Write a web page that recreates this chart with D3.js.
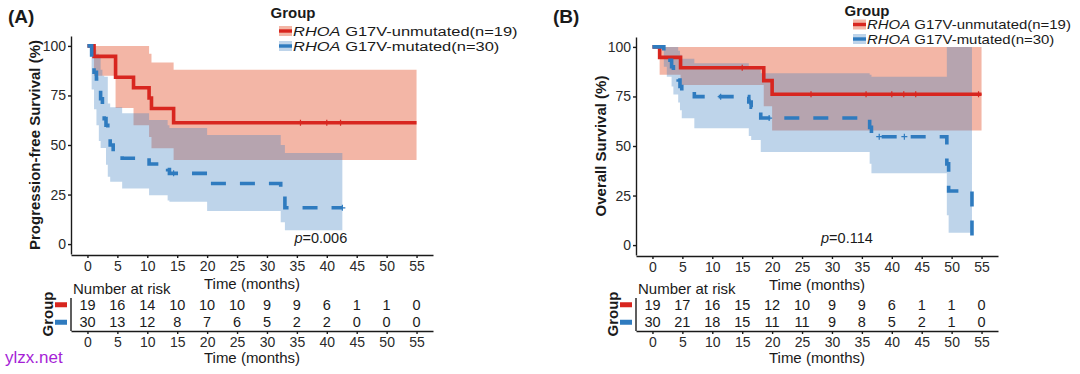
<!DOCTYPE html>
<html>
<head>
<meta charset="utf-8">
<style>
  body { margin: 0; background: #fff; }
  svg { display: block; }
  text { font-family: 'Liberation Sans', Arial, sans-serif; fill: #1a1a1a; }
  .axis path, .axis line { stroke: #1a1a1a; stroke-width: 1.4px; }
  .axis text { font-size: 14px; fill: #2a2a2a; }
</style>
</head>
<body>
<svg id="chart" width="1080" height="374"></svg>
<script src="https://d3js.org/d3.v7.min.js"></script>
<script>
// ---------- shared ticks / labels ----------
const monthTicks = [0, 5, 10, 15, 20, 25, 30, 35, 40, 45, 50, 55];
const pctTicks = [0, 25, 50, 75, 100];
const groupNames = ["G17V-unmutated(n=19)", "G17V-mutated(n=30)"];

// ---------- panel A : progression-free survival ----------
const pfsUnmutTime  = [0, 1.1, 4.7, 7.7, 10.3, 10.7, 14.4];
const pfsUnmutSurv  = [100, 94.7, 84.2, 78.9, 73.7, 68.4, 61.2];
const pfsUnmutUpper = [100, 100, 100, 100, 96, 91.6, 88];
const pfsUnmutLower = [100, 85, 68.7, 60, 54, 48.3, 42.4];
const pfsUnmutEnd = 55;
const pfsUnmutCensor = [35.6, 40.0, 42.3];

const pfsMutTime  = [0, 0.7, 1.1, 1.5, 1.9, 2.2, 2.5, 2.8, 3.1, 3.4, 3.8, 4.3, 5.8, 10.3, 13.4, 13.7, 20, 32.3, 33];
const pfsMutSurv  = [100, 93.3, 86.7, 83.3, 80, 73.3, 70, 63.3, 60, 53.3, 50, 46.7, 43.3, 40.4, 37.6, 35.7, 30.6, 24.5, 18.3];
const pfsMutUpper = [100, 100, 98, 96, 94, 88, 85, 84.5, 84.5, 71, 69, 69, 66, 62.6, 60, 58.6, 55, 50, 46];
const pfsMutLower = [100, 78, 68, 60, 52, 48.5, 48.5, 48.5, 40, 34, 31.5, 31.5, 28, 24.7, 22, 21.4, 16.7, 11, 7];
const pfsMutEnd = 42.6;
const pfsMutCensor = [14.4, 42.6];

const pfsRiskUnmut = [19, 16, 14, 10, 10, 10, 9, 9, 6, 1, 1, 0];
const pfsRiskMut   = [30, 13, 12, 8, 7, 6, 5, 2, 2, 0, 0, 0];

// ---------- panel B : overall survival ----------
const osUnmutTime  = [0, 1.2, 4.7, 18.6, 20];
const osUnmutSurv  = [100, 94.7, 89.5, 83, 76.1];
const osUnmutUpper = [100, 100, 100, 100, 100];
const osUnmutLower = [100, 85.9, 80.8, 70, 57.8];
const osUnmutEnd = 55;
const osUnmutCensor = [15, 26.5, 35.7, 40, 42, 44, 54.5];

const osMutTime  = [0, 1.9, 2.4, 3.2, 3.5, 4.3, 4.6, 4.9, 7.0, 16.1, 16.5, 18.1, 36.3, 36.6, 49.2, 49.5, 53.4];
const osMutSurv  = [100, 96.7, 93.3, 90, 86.7, 83.3, 80, 77.4, 74.9, 72.2, 69.6, 64.1, 59.4, 54.7, 41, 27.3, 0];
const osMutUpper = [100, 100, 100, 100, 100, 98, 96, 94, 91.7, 90, 89, 86.7, 86, 85, 100, 100, 100];
const osMutLower = [100, 90, 85, 80, 76, 72, 68, 64, 59, 55, 53, 47, 41, 36.2, 15, 6.2, 6.2];
const osMutEnd = 53.4;
const osMutCensor = [11.4, 16.3, 19.5, 37.9, 42.1];

const osRiskUnmut = [19, 17, 16, 15, 12, 10, 9, 9, 6, 1, 1, 0];
const osRiskMut   = [30, 21, 18, 15, 11, 11, 9, 8, 5, 2, 1, 0];

// ---------- styles ----------
const redLine = "#d8261f", blueLine = "#2f7bbf";
const redBand = "#ea7a5c", blueBand = "#4080c1";
const redAlpha = 0.55, blueAlpha = 0.34;

const svg = d3.select("#chart");
svg.append("rect").attr("width", 1080).attr("height", 374).attr("fill", "#fff");

function toRows(time, surv, lower, upper, end) {
  let rows = time.map((t, i) => ({ t: t, s: surv[i], lo: lower[i], hi: upper[i] }));
  let last = rows[rows.length - 1];
  rows.push({ t: end, s: last.s, lo: last.lo, hi: last.hi });
  return rows;
}

function survAt(time, surv, t) {
  let v = surv[0];
  time.forEach((tt, i) => { if (tt <= t) v = surv[i]; });
  return v;
}

function drawPanel(p) {
  const g = svg.append("g");
  const x = d3.scaleLinear().domain([-2.75, 57.75]).range([p.left, p.left + 362]);
  const y = d3.scaleLinear().domain([-5, 105]).range([p.bottom, p.bottom - 218]);

  const groups = [
    { rows: toRows(p.unmut.time, p.unmut.surv, p.unmut.lower, p.unmut.upper, p.unmut.end),
      time: p.unmut.time, surv: p.unmut.surv, censor: p.unmut.censor,
      line: redLine, band: redBand, alpha: redAlpha, dash: null },
    { rows: toRows(p.mut.time, p.mut.surv, p.mut.lower, p.mut.upper, p.mut.end),
      time: p.mut.time, surv: p.mut.surv, censor: p.mut.censor,
      line: blueLine, band: blueBand, alpha: blueAlpha, dash: "15,14" }
  ];

  const area = d3.area().curve(d3.curveStepAfter)
    .x(d => x(d.t)).y0(d => y(d.lo)).y1(d => y(d.hi));
  const line = d3.line().curve(d3.curveStepAfter)
    .x(d => x(d.t)).y(d => y(d.s));

  groups.forEach(gr => {
    g.append("path").attr("d", area(gr.rows))
      .attr("fill", gr.band).attr("fill-opacity", gr.alpha);
  });
  groups.forEach(gr => {
    g.append("path").attr("d", line(gr.rows))
      .attr("fill", "none").attr("stroke", gr.line)
      .attr("stroke-width", 3.6)
      .attr("stroke-dasharray", gr.dash);
    g.selectAll(null).data(gr.censor).join("path")
      .attr("d", t => {
        const cx = x(t), cy = y(survAt(gr.time, gr.surv, t));
        return `M${cx - 3},${cy}H${cx + 3}M${cx},${cy - 3}V${cy + 3}`;
      })
      .attr("stroke", gr.line).attr("stroke-width", 1.2);
  });

  // axes of the survival plot
  g.append("g").attr("class", "axis")
    .attr("transform", `translate(0,${p.bottom + 1})`)
    .call(d3.axisBottom(x).tickValues(monthTicks).tickSize(3).tickSizeOuter(0).tickPadding(3));
  g.append("g").attr("class", "axis")
    .attr("transform", `translate(${p.left},0)`)
    .call(d3.axisLeft(y).tickValues(pctTicks).tickSize(3).tickSizeOuter(0).tickPadding(2));

  g.append("text").attr("x", x(27.5)).attr("y", p.bottom + 29)
    .attr("text-anchor", "middle").attr("dominant-baseline", "central")
    .attr("font-size", 15).text("Time (months)");

  g.append("text")
    .attr("transform", `translate(${p.ytitleX},${y(50)}) rotate(-90)`)
    .attr("text-anchor", "middle").attr("dominant-baseline", "central")
    .attr("font-size", 15).attr("font-weight", "bold").text(p.ytitle);

  g.append("text").attr("x", p.tagX).attr("y", 16)
    .attr("dominant-baseline", "central")
    .attr("font-size", 19).attr("font-weight", "bold").text(p.tag);

  const pv = g.append("text").attr("x", x(p.pAt)).attr("y", 238)
    .attr("text-anchor", "middle").attr("dominant-baseline", "central")
    .attr("font-size", 14.5);
  pv.append("tspan").attr("font-style", "italic").text("p");
  pv.append("tspan").text("=" + p.pval);

  // legend
  g.append("text").attr("x", p.legX + 2).attr("y", p.legTitleY)
    .attr("text-anchor", "middle").attr("dominant-baseline", "central")
    .attr("font-size", 15).attr("font-weight", "bold").text("Group");
  groups.forEach((gr, i) => {
    const ly = p.legY + i * p.legGap;
    g.append("rect").attr("x", p.legX - 12).attr("y", ly - 5)
      .attr("width", 13).attr("height", 10)
      .attr("fill", gr.band).attr("fill-opacity", gr.alpha);
    g.append("line").attr("x1", p.legX - 12).attr("x2", p.legX + 1)
      .attr("y1", ly).attr("y2", ly)
      .attr("stroke", gr.line).attr("stroke-width", 3.4);
    const t = g.append("text")
      .attr("transform", `translate(${p.legX + 2},${ly}) scale(${p.legStretch},1)`)
      .attr("dominant-baseline", "central").attr("font-size", p.legFont);
    t.append("tspan").attr("font-style", "italic").text("RHOA");
    t.append("tspan").text(" " + groupNames[i]);
  });

  // number at risk table
  const tb = 331;
  const row = d3.scaleBand().domain(["unmut", "mut"]).range([296, tb]);
  g.append("text").attr("x", p.left + 2).attr("y", 288)
    .attr("dominant-baseline", "central").attr("font-size", 15).text("Number at risk");
  [[p.riskUnmut, "unmut", redLine], [p.riskMut, "mut", blueLine]].forEach(([vals, key, col]) => {
    const cy = row(key) + row.bandwidth() / 2;
    g.selectAll(null).data(vals).join("text")
      .attr("x", (d, i) => x(monthTicks[i])).attr("y", cy)
      .attr("text-anchor", "middle").attr("dominant-baseline", "central")
      .attr("font-size", 14.5).attr("fill", "#2a2a2a").text(d => d);
    g.append("rect").attr("x", p.left - 16).attr("y", cy - 2.5)
      .attr("width", 12).attr("height", 5).attr("fill", col);
  });
  g.append("line").attr("x1", p.left).attr("x2", p.left)
    .attr("y1", 298).attr("y2", tb).attr("stroke", "#1a1a1a").attr("stroke-width", 1.4);
  g.append("g").attr("class", "axis")
    .attr("transform", `translate(0,${tb})`)
    .call(d3.axisBottom(x).tickValues(monthTicks).tickSize(3).tickSizeOuter(0).tickPadding(3));
  g.append("text").attr("x", x(27.5)).attr("y", 357)
    .attr("text-anchor", "middle").attr("dominant-baseline", "central")
    .attr("font-size", 15).text("Time (months)");
  g.append("text")
    .attr("transform", `translate(${p.left - 24},314) rotate(-90)`)
    .attr("text-anchor", "middle").attr("dominant-baseline", "central")
    .attr("font-size", 15).attr("font-weight", "bold").text("Group");
}

drawPanel({
  left: 71, bottom: 254, tag: "(A)", tagX: 8, ytitleX: 34,
  ytitle: "Progression-free Survival (%)", pval: "0.006", pAt: 39,
  legX: 291, legY: 31, legGap: 15, legFont: 13.5, legStretch: 1.22, legTitleY: 12,
  unmut: { time: pfsUnmutTime, surv: pfsUnmutSurv, lower: pfsUnmutLower, upper: pfsUnmutUpper, end: pfsUnmutEnd, censor: pfsUnmutCensor },
  mut: { time: pfsMutTime, surv: pfsMutSurv, lower: pfsMutLower, upper: pfsMutUpper, end: pfsMutEnd, censor: pfsMutCensor },
  riskUnmut: pfsRiskUnmut, riskMut: pfsRiskMut
});

drawPanel({
  left: 636, bottom: 255, tag: "(B)", tagX: 553, ytitleX: 600,
  ytitle: "Overall Survival (%)", pval: "0.114", pAt: 32.5,
  legX: 865, legY: 24.5, legGap: 14.5, legFont: 13, legStretch: 1.15, legTitleY: 10,
  unmut: { time: osUnmutTime, surv: osUnmutSurv, lower: osUnmutLower, upper: osUnmutUpper, end: osUnmutEnd, censor: osUnmutCensor },
  mut: { time: osMutTime, surv: osMutSurv, lower: osMutLower, upper: osMutUpper, end: osMutEnd, censor: osMutCensor },
  riskUnmut: osRiskUnmut, riskMut: osRiskMut
});

svg.append("text").attr("x", 5).attr("y", 357)
  .attr("dominant-baseline", "central").attr("font-size", 17)
  .style("fill", "#a61fd6").text("ylzx.net");
</script>
</body>
</html>
